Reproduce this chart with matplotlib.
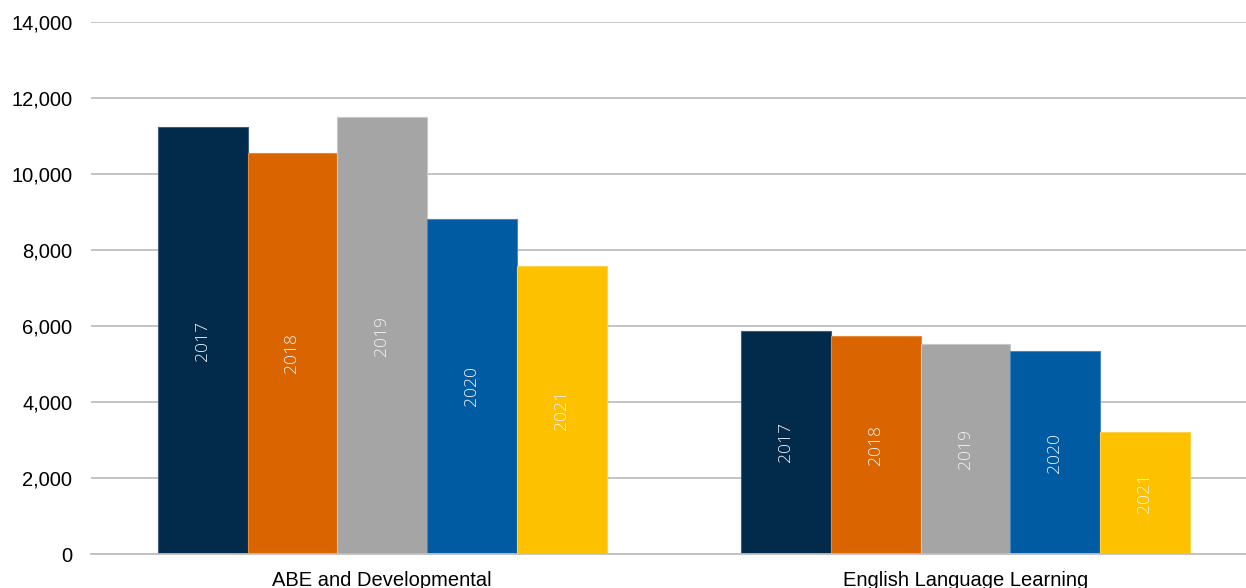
import matplotlib
matplotlib.use("Agg")
import matplotlib.pyplot as plt
import numpy as np

categories = ["ABE and Developmental", "English Language Learning"]
years = ["2017", "2018", "2019", "2020", "2021"]
values_2017 = [11230, 5880]
values_2018 = [10560, 5740]
values_2019 = [11490, 5520]
values_2020 = [8820, 5330]
values_2021 = [7590, 3220]
series = [values_2017, values_2018, values_2019, values_2020, values_2021]
colors = ["#012A4B", "#D96400", "#A5A5A5", "#005BA3", "#FDC100"]
edge_colors = ["#3E5F7E", "#E8893A", "#C8C8C8", "#4A87BE", "#FDD24A"]

W, H, DPI = 1246, 588, 100
fig = plt.figure(figsize=(W / DPI, H / DPI), dpi=DPI)
left_px, right_px, top_px, bottom_px = 90.5, 1257.3, 22, 554
ax = fig.add_axes([left_px / W, 1 - bottom_px / H,
                   (right_px - left_px) / W, (bottom_px - top_px) / H])

x = np.arange(len(categories))
bw = 1 / 6.5
for i, (vals, c, ec) in enumerate(zip(series, colors, edge_colors)):
    pos = x + (i - 2) * bw
    ax.bar(pos, vals, width=bw, color=c, edgecolor=ec, linewidth=0.8, zorder=3)
    for p, v in zip(pos, vals):
        ax.text(p, v / 2, years[i], rotation=90, ha="center", va="center",
                color="#F4F4F4", fontsize=12.6, fontweight="light",
                family=["Open Sans", "DejaVu Sans"], zorder=4)

ax.set_xlim(-0.5, 1.5)
ax.set_ylim(0, 14000)
ax.set_yticks(np.arange(0, 14001, 2000))
ax.set_yticklabels([f"{v:,}" for v in range(0, 14001, 2000)])
ax.set_xticks(x)
ax.set_xticklabels(categories)
ax.grid(axis="y", color="#BFBFBF", linewidth=1.3, zorder=0)
for s in ["left", "right", "top"]:
    ax.spines[s].set_visible(False)
ax.spines["bottom"].set_color("#BFBFBF")
ax.spines["bottom"].set_linewidth(1.3)
ax.spines["bottom"].set_zorder(5)
ax.tick_params(axis="both", length=0, labelsize=14.5, labelcolor="#000000")
ax.tick_params(axis="y", pad=13)
ax.tick_params(axis="x", pad=12)
for lab in ax.get_xticklabels() + ax.get_yticklabels():
    lab.set_family(["Liberation Sans", "DejaVu Sans"])

fig.savefig("out.png", dpi=DPI)
